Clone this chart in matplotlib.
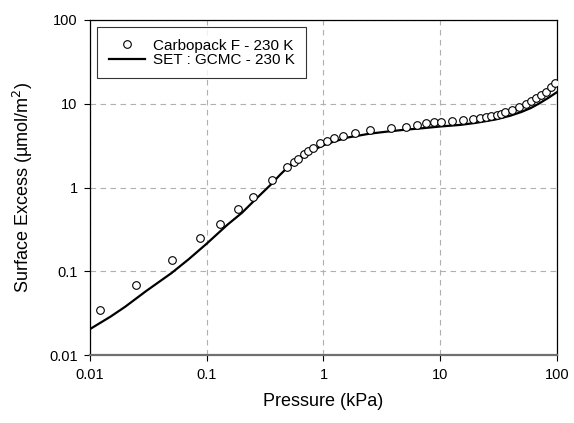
import matplotlib
matplotlib.use("Agg")
import matplotlib.pyplot as plt
from matplotlib.ticker import FixedLocator, FixedFormatter, NullLocator

plt.rcParams['font.family'] = ['Liberation Sans', 'DejaVu Sans']

# Carbopack F - 230 K (experimental points)
p_exp = [0.0122, 0.0247, 0.050, 0.088, 0.129, 0.187, 0.25, 0.36, 0.487, 0.555,
         0.60, 0.68, 0.73, 0.82, 0.94, 1.07, 1.22, 1.46, 1.86, 2.5, 3.8, 5.1,
         6.3, 7.6, 8.9, 10.1, 12.7, 15.8, 19.1, 21.9, 24.5, 27.5, 31, 33, 36,
         41, 47, 54, 60, 66, 73.5, 81, 88.5, 96]
n_exp = [0.035, 0.069, 0.138, 0.248, 0.37, 0.557, 0.78, 1.23, 1.74, 2.03,
         2.2, 2.53, 2.72, 3.0, 3.38, 3.6, 3.9, 4.17, 4.45, 4.8, 5.1, 5.35,
         5.65, 5.85, 6.0, 6.05, 6.15, 6.4, 6.6, 6.77, 6.93, 7.15, 7.43, 7.6, 7.9,
         8.45, 9.1, 9.95, 10.7, 11.6, 12.7, 13.7, 15.7, 17.8]

# SET : GCMC - 230 K (model curve)
p_set = [0.01, 0.015, 0.02, 0.03, 0.05, 0.07, 0.1, 0.15, 0.2, 0.25, 0.3,
         0.36, 0.42, 0.49, 0.6, 0.7, 0.8, 1.0, 1.2, 1.6, 2.5, 3.5, 5, 7, 10,
         15, 20, 30, 40, 50, 60, 70, 85, 100]
n_set = [0.0206, 0.029, 0.038, 0.058, 0.096, 0.14, 0.215, 0.36, 0.5, 0.68,
         0.87, 1.11, 1.4, 1.73, 2.15, 2.45, 2.75, 3.2, 3.5, 3.95, 4.4, 4.65,
         4.9, 5.1, 5.35, 5.6, 5.9, 6.5, 7.2, 8.0, 8.9, 10.0, 11.8, 13.7]

decades = [0.01, 0.1, 1, 10, 100]
decade_labels = ['0.01', '0.1', '1', '10', '100']

fig = plt.figure(figsize=(5.74, 4.23), dpi=100)
ax = fig.add_axes([0.157, 0.160, 0.813, 0.793])

ax.plot(p_set, n_set, color='black', lw=1.6, label='SET : GCMC - 230 K', zorder=3)
ax.plot(p_exp, n_exp, ls='none', marker='o', ms=5.5, mfc='white', mec='black',
        mew=0.8, label='Carbopack F - 230 K', zorder=4)

ax.set_xscale('log')
ax.set_yscale('log')
ax.set_xlim(0.01, 100)
ax.set_ylim(0.01, 100)

for axis in (ax.xaxis, ax.yaxis):
    axis.set_major_locator(FixedLocator(decades))
    axis.set_major_formatter(FixedFormatter(decade_labels))
    axis.set_minor_locator(NullLocator())

ax.tick_params(direction='out', length=4, width=0.8, labelsize=10.5, pad=5)
ax.grid(True, color='#b0b0b0', ls=(0, (5, 4)), lw=0.8)
ax.set_axisbelow(True)

for s in ['left', 'right', 'top']:
    ax.spines[s].set_color('black')
    ax.spines[s].set_linewidth(0.9)
ax.spines['bottom'].set_color('#707070')
ax.spines['bottom'].set_linewidth(1.6)

ax.set_xlabel('Pressure (kPa)', fontsize=13, labelpad=8)
ax.set_ylabel('Surface Excess (\u00b5mol/m$^2$)', fontsize=13, labelpad=10)

h, l = ax.get_legend_handles_labels()
leg = ax.legend(h[::-1], l[::-1], loc='upper left', bbox_to_anchor=(0.0156, 0.978),
                fontsize=11, frameon=True, fancybox=False, borderpad=0.75,
                handlelength=2.35, labelspacing=0.02, handletextpad=0.55,
                borderaxespad=0)
leg.get_frame().set_edgecolor('black')
leg.get_frame().set_linewidth(0.8)

fig.savefig('out.png', dpi=100)
